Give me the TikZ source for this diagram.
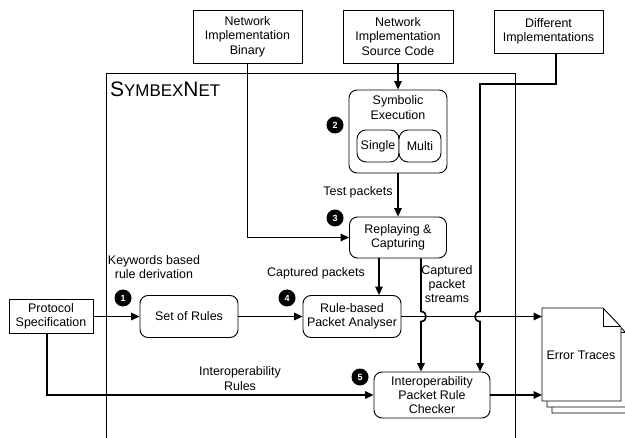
\documentclass[tikz,border=0pt]{standalone}
\usepackage{fontspec}
\setmainfont{Liberation Sans}
\usetikzlibrary{arrows.meta,calc}
\begin{document}
\begin{tikzpicture}[x=1bp,y=-1bp,
  every node/.style={font=\fontsize{12.5}{14.5}\selectfont, align=center, inner sep=0pt},
  box/.style={draw, line width=0.9bp, fill=white},
  rbox/.style={box, rounded corners=8bp},
  num/.style={circle, fill=black, text=white, minimum size=17bp, font=\fontsize{9}{9}\selectfont\bfseries},
  conn/.style={line width=1.6bp},
  arr/.style={conn, -{Triangle[length=8.5bp,width=7.5bp]}},
  docpage/.pic={
    \draw[line width=0.9bp, fill=white] (0,0) -- (61,0) -- (79,19) -- (79,93) -- (0,93) -- cycle;
    \draw[line width=0.9bp] (61,0) -- (61,18) -- (78,18);
  }
]
\useasboundingbox (0,0) rectangle (625,438);

% frame
\draw[line width=0.9bp] (106,440) -- (106,73) -- (515,73) -- (515,440);
\node[anchor=base west] (title) at (110,96.5) {{\fontsize{21}{21}\selectfont S}{\fontsize{17}{17}\selectfont YMBEX}{\fontsize{21}{21}\selectfont N}{\fontsize{17}{17}\selectfont ET}};

% top boxes
\node[box, minimum width=109bp, minimum height=53bp] (bin) at (247.5,36.5) {Network\\Implementation\\Binary};
\node[box, minimum width=110bp, minimum height=53bp] (src) at (398,36.5) {Network\\Implementation\\Source Code};
\node[box, minimum width=109bp, minimum height=43bp] (diff) at (548.5,31.5) {Different\\Implementations};

% symbolic execution
\node[rbox, minimum width=98bp, minimum height=83bp] (sym) at (398,131.5) {};
\node (symt) at (398,107.5) {Symbolic\\Execution};
\node[rbox, rounded corners=9bp, minimum width=42bp, minimum height=32bp] (single) at (378,146) {Single};
\node[rbox, rounded corners=9bp, minimum width=42bp, minimum height=32bp] (multi) at (420,146) {Multi};

% other boxes
\node[rbox, minimum width=97bp, minimum height=41bp] (rep) at (398,237.5) {Replaying \&\\Capturing};
\node[rbox, minimum width=98bp, minimum height=42bp] (rba) at (352,316.5) {Rule-based\\Packet Analyser};
\node[rbox, minimum width=98bp, minimum height=42bp] (sor) at (189,316.5) {Set of Rules};
\node[box, minimum width=84bp, minimum height=34bp] (proto) at (51,316.5) {Protocol\\Specification};
\node[rbox, minimum width=116bp, minimum height=46bp] (chk) at (432,395) {Interoperability\\Packet Rule\\Checker};

% error traces
\pic at (552,320) {docpage};
\pic at (547,314) {docpage};
\pic at (542,308) {docpage};
\node (err) at (581,355) {Error Traces};
\coordinate (errL) at (542,355);

% numbers
\node[num] (n1) at (123,298) {1};
\node[num] (n2) at (335,125) {2};
\node[num] (n3) at (335,218) {3};
\node[num] (n4) at (287,298) {4};
\node[num] (n5) at (360,377) {5};

% labels
\node (lkw) at (154,267) {Keywords based\\rule derivation};
\node (lcp) at (316,273) {Captured packets};
\node (ltp) at (358,192) {Test packets};
\node (lcs) at (447,284) {Captured\\packet\\streams};
\node (lir) at (240,378.5) {Interoperability\\Rules};

% connectors
\coordinate (cx1) at (379,0);
\coordinate (cx2) at (421,0);
\coordinate (dx) at (556,0);
\coordinate (bend) at (480,84);
\coordinate (px) at (47,0);

\draw[arr] (src.south) -- (sym.north);
\draw[arr] (sym.south) -- (rep.north);
\draw[arr] (bin.south) |- (rep.west);
\draw[arr] (rep.south -| cx1) -- (rba.north -| cx1);
\draw[arr] (proto.east) -- (sor.west);
\draw[arr] (sor.east) -- (rba.west);
\draw[arr] (rba.east) -- (errL |- rba.east);
\draw[arr] (rep.south -| cx2) -- ($(cx2 |- rba.east)+(0,-5)$) .. controls +(6.7,0) and +(6.7,0) .. ($(cx2 |- rba.east)+(0,5)$) -- (chk.north -| cx2);
\draw[arr] (diff.south -| dx) |- (bend) -- ($(bend |- rba.east)+(0,-5)$) .. controls +(-6.7,0) and +(-6.7,0) .. ($(bend |- rba.east)+(0,5)$) -- (chk.north -| bend);
\draw[arr] (proto.south -| px) |- (chk.west);
\draw[arr] (chk.east) -- (errL |- chk.east);
\end{tikzpicture}
\end{document}
